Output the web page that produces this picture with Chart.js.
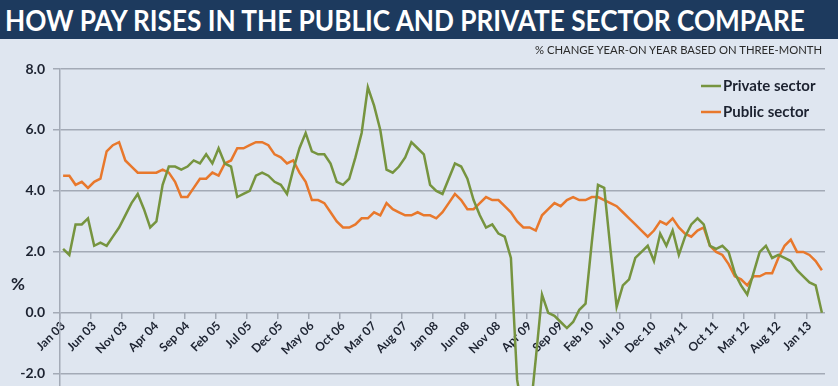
<!DOCTYPE html>
<html><head><meta charset="utf-8">
<script src="https://cdn.jsdelivr.net/npm/chart.js@4.4.1/dist/chart.umd.min.js"></script>
<style>
html,body{margin:0;padding:0;background:#dfe6f0;overflow:hidden;}
#wrap{position:relative;width:838px;height:386px;background:#dfe6f0;}
#banner{position:absolute;left:0;top:0;width:838px;height:39px;background:#1d3a5e;}
#title{position:absolute;left:5px;top:2px;color:#fff;font:bold 29px Lato, sans-serif;white-space:nowrap;transform-origin:0 0;line-height:35px;}
#sub{position:absolute;top:43px;right:16px;font:11px Lato, sans-serif;color:#2a2a2a;white-space:nowrap;transform-origin:100% 0;line-height:14px;}
canvas{position:absolute;left:0;top:0;}
</style></head>
<body>
<div id="wrap">
<canvas id="c" width="838" height="386"></canvas>
<div id="banner"><span id="title">HOW PAY RISES IN THE PUBLIC AND PRIVATE SECTOR COMPARE</span></div>
<div id="sub">% CHANGE YEAR-ON YEAR BASED ON THREE-MONTH</div>
</div>
<script>
const monthNames = ['Jan','Feb','Mar','Apr','May','Jun','Jul','Aug','Sep','Oct','Nov','Dec'];
const years = ['03','04','05','06','07','08','09','10','11','12','13'];
const categories = [];
years.forEach(y => monthNames.forEach(m => categories.push(m + ' ' + y)));
categories.length = 123; // Jan 03 .. Mar 13

const privateSector = [
 2.1,1.9,2.9,2.9,3.1,2.2,2.3,2.2,2.5,2.8,3.2,3.6,
 3.9,3.4,2.8,3.0,4.2,4.8,4.8,4.7,4.8,5.0,4.9,5.2,
 4.9,5.4,4.9,4.8,3.8,3.9,4.0,4.5,4.6,4.5,4.3,4.2,
 3.9,4.7,5.4,5.9,5.3,5.2,5.2,4.9,4.3,4.2,4.4,5.1,
 5.9,7.4,6.8,6.0,4.7,4.6,4.8,5.1,5.6,5.4,5.2,4.2,
 4.0,3.9,4.4,4.9,4.8,4.4,3.7,3.2,2.8,2.9,2.6,2.5,
 1.8,-2.2,-3.4,-3.5,-1.5,0.6,0.0,-0.1,-0.3,-0.5,-0.3,0.1,
 0.3,2.3,4.2,4.1,2.1,0.2,0.9,1.1,1.8,2.0,2.2,1.7,
 2.6,2.2,2.7,1.9,2.5,2.9,3.1,2.9,2.2,2.1,2.2,2.0,
 1.3,0.9,0.6,1.3,2.0,2.2,1.8,1.9,1.8,1.7,1.4,1.2,
 1.0,0.9,0.0
];
const publicSector = [
 4.5,4.5,4.2,4.3,4.1,4.3,4.4,5.3,5.5,5.6,5.0,4.8,
 4.6,4.6,4.6,4.6,4.7,4.6,4.3,3.8,3.8,4.1,4.4,4.4,
 4.6,4.5,4.9,5.0,5.4,5.4,5.5,5.6,5.6,5.5,5.2,5.1,
 4.9,5.0,4.6,4.3,3.7,3.7,3.6,3.3,3.0,2.8,2.8,2.9,
 3.1,3.1,3.3,3.2,3.6,3.4,3.3,3.2,3.2,3.3,3.2,3.2,
 3.1,3.3,3.6,3.9,3.7,3.4,3.4,3.6,3.8,3.7,3.7,3.5,
 3.3,3.0,2.8,2.8,2.7,3.2,3.4,3.6,3.5,3.7,3.8,3.7,
 3.7,3.8,3.8,3.7,3.6,3.5,3.3,3.1,2.9,2.7,2.5,2.7,
 3.0,2.9,3.1,2.8,2.6,2.5,2.7,2.8,2.2,2.0,1.9,1.6,
 1.2,1.1,0.9,1.2,1.2,1.3,1.3,1.8,2.2,2.4,2.0,2.0,
 1.9,1.7,1.4
];
const yTicks = [-2, 0, 2, 4, 6, 8];
const labelEvery = 5;

const GREEN = '#76943f';
const ORANGE = '#e8782c';
const GRID = '#a3aab6';
const TEXT = '#1c2230';

function fitX(el, w) { el.style.transform = 'scaleX(' + (w / el.offsetWidth) + ')'; }
fitX(document.getElementById('title'), 800);
fitX(document.getElementById('sub'), 287);

const overlay = {
  id: 'overlay',
  afterDraw(chart) {
    const c = chart.ctx;
    c.save();
    c.textBaseline = 'middle';
    c.textAlign = 'left';
    c.font = 'bold 15px Lato';
    const rows = [86, 112];
    chart.data.datasets.forEach((ds, i) => {
      const y = rows[i];
      c.strokeStyle = ds.borderColor;
      c.lineWidth = 2.5;
      c.beginPath(); c.moveTo(701, y); c.lineTo(721, y); c.stroke();
      c.fillStyle = TEXT;
      c.fillText(ds.label, 723, y);
    });
    c.font = 'bold 17px Lato';
    c.fillText('%', 11, 285);
    c.restore();
  }
};

new Chart(document.getElementById('c'), {
  type: 'line',
  data: {
    labels: categories,
    datasets: [
      { label: 'Private sector', data: privateSector, borderColor: GREEN, borderWidth: 2.5, pointRadius: 0, tension: 0, fill: false },
      { label: 'Public sector', data: publicSector, borderColor: ORANGE, borderWidth: 2.5, pointRadius: 0, tension: 0, fill: false }
    ]
  },
  options: {
    responsive: false,
    animation: false,
    layout: { padding: { top: 69, right: 13, left: 0, bottom: 0 } },
    plugins: { legend: { display: false }, tooltip: { enabled: false } },
    scales: {
      x: {
        type: 'category',
        position: { y: 0 },
        offset: true,
        grid: { offset: true, drawOnChartArea: false, drawTicks: true, tickLength: 6, lineWidth: 1.5,
                color: ctx => (ctx.index % labelEvery === 0 ? GRID : 'rgba(0,0,0,0)') },
        border: { display: false },
        ticks: { autoSkip: false, maxRotation: 45, minRotation: 45, padding: 0, color: TEXT,
                 font: { family: 'Lato', weight: 'bold', size: 12 },
                 callback: (v, i) => (i % labelEvery === 0 ? categories[i] : '') },
        afterFit: s => { s.height = 0; }
      },
      y: {
        min: -2.4, max: 8,
        afterBuildTicks: s => { s.ticks = yTicks.map(v => ({ value: v })); },
        afterFit: s => { s.width = 60; s.paddingTop = 0; s.paddingBottom = 0; },
        grid: { color: GRID, lineWidth: 1.5, tickLength: 7 },
        border: { color: GRID, width: 1.5 },
        ticks: { padding: 8, color: TEXT, font: { family: 'Lato', weight: 'bold', size: 14 },
                 callback: v => v.toFixed(1) }
      }
    }
  },
  plugins: [overlay]
});
</script>
</body></html>
